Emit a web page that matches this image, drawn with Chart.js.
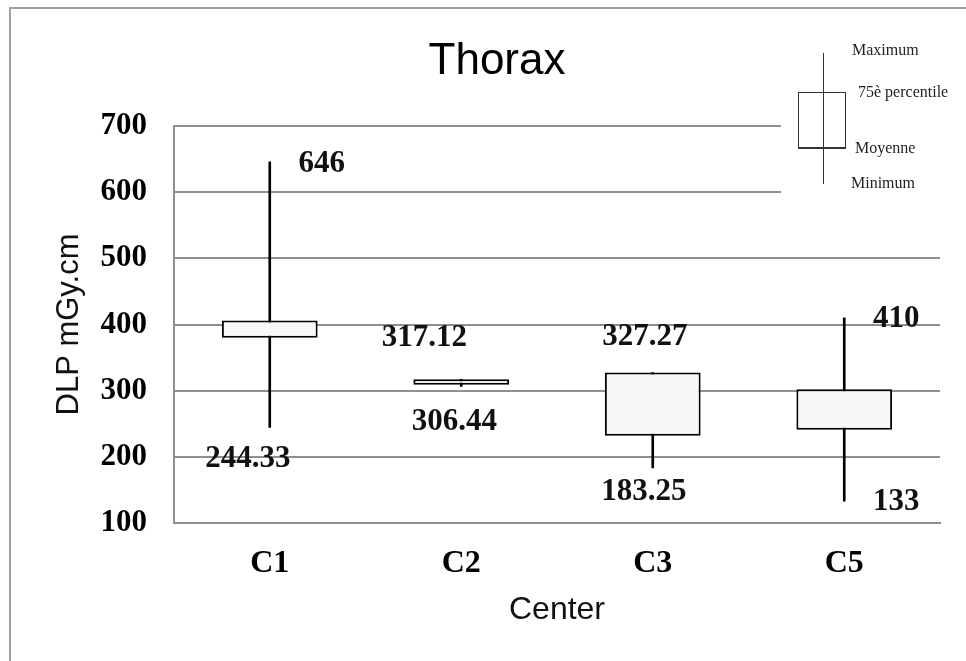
<!DOCTYPE html>
<html>
<head>
<meta charset="utf-8">
<script src="https://cdn.jsdelivr.net/npm/chart.js@4/dist/chart.umd.min.js"></script>
<style>
  html, body { margin: 0; padding: 0; background: #ffffff; }
  #wrap { width: 966px; height: 661px; position: relative; }
</style>
</head>
<body>
<div id="wrap"><canvas id="c" width="966" height="661"></canvas></div>
<script>
// ---- data ----
const categories = ['C1', 'C2', 'C3', 'C5'];
const minValues = [244.33, 306.44, 183.25, 133];
const q1Values  = [380, 309, 232, 241];
const q3Values  = [406, 317.12, 327.27, 302];
const maxValues = [646, 317.12, 327.27, 410];
const maxLabels = ['646', '317.12', '327.27', '410'];
const minLabels = ['244.33', '306.44', '183.25', '133'];
const yTicks = [100, 200, 300, 400, 500, 600, 700];
const legendTexts = ['Maximum', '75è percentile', 'Moyenne', 'Minimum'];

// label placement offsets (px) relative to the value point
const maxLabelOffsets = [[52, 2], [-37, -41], [-8, -36], [52, 1]];
const minLabelOffsets = [[-22, 31], [-7, 36], [-9, 24], [52, 1]];

const SERIF = '"Liberation Serif", "Times New Roman", serif';
const SANS = '"Liberation Sans", Arial, sans-serif';
const GRID = '#8f8f8f';

const whiskerData = categories.map((c, i) => [minValues[i], maxValues[i]]);
const boxData = categories.map((c, i) => [q1Values[i], q3Values[i]]);

const decorPlugin = {
  id: 'decor',
  beforeDraw(chart) {
    const ctx = chart.ctx;
    ctx.save();
    ctx.fillStyle = '#ffffff';
    ctx.fillRect(0, 0, chart.width, chart.height);
    ctx.strokeStyle = '#a0a0a0';
    ctx.lineWidth = 2;
    ctx.strokeRect(10, 8, 1000, 700);
    ctx.restore();
  },
  afterDatasetsDraw(chart) {
    const ctx = chart.ctx;
    const xs = chart.scales.x, ys = chart.scales.y;
    ctx.save();
    // title
    ctx.fillStyle = '#000';
    ctx.font = '44px ' + SANS;
    ctx.textAlign = 'center';
    ctx.textBaseline = 'middle';
    ctx.fillText('Thorax', 497, 62);

    // value labels
    ctx.font = 'bold 31px ' + SERIF;
    ctx.fillStyle = '#111';
    categories.forEach((c, i) => {
      const x = xs.getPixelForValue(i);
      ctx.fillText(maxLabels[i], x + maxLabelOffsets[i][0], ys.getPixelForValue(maxValues[i]) + maxLabelOffsets[i][1]);
      ctx.fillText(minLabels[i], x + minLabelOffsets[i][0], ys.getPixelForValue(minValues[i]) + minLabelOffsets[i][1]);
    });

    // legend key (covers gridlines on the right)
    ctx.fillStyle = '#ffffff';
    ctx.fillRect(781, 12, 185, 212);
    ctx.strokeStyle = '#333';
    ctx.lineWidth = 1;
    ctx.beginPath();
    ctx.moveTo(823.5, 53); ctx.lineTo(823.5, 184);
    ctx.stroke();
    ctx.strokeRect(798.5, 92.5, 47, 56);
    ctx.lineWidth = 2;
    ctx.beginPath();
    ctx.moveTo(798, 148); ctx.lineTo(846, 148);
    ctx.stroke();
    ctx.fillStyle = '#222';
    ctx.font = '16px ' + SERIF;
    ctx.textAlign = 'left';
    ctx.textBaseline = 'middle';
    ctx.fillText(legendTexts[0], 852, 51);
    ctx.fillText(legendTexts[1], 858, 93);
    ctx.fillText(legendTexts[2], 855, 149);
    ctx.fillText(legendTexts[3], 851, 184);
    ctx.restore();
  }
};

new Chart(document.getElementById('c'), {
  type: 'bar',
  data: {
    labels: categories,
    datasets: [
      {
        label: 'Min-Max',
        data: whiskerData,
        backgroundColor: '#000',
        borderWidth: 0,
        barThickness: 2,
        grouped: false,
        order: 1
      },
      {
        label: 'Q1-Q3',
        data: boxData,
        backgroundColor: '#f8f8f8',
        borderColor: '#000',
        borderWidth: 2,
        borderSkipped: false,
        categoryPercentage: 1,
        barPercentage: 0.5,
        grouped: false,
        order: 0
      }
    ]
  },
  options: {
    responsive: false,
    animation: false,
    layout: { padding: { top: 126, right: 26, bottom: 0, left: 0 } },
    plugins: {
      legend: { display: false },
      title: { display: false },
      tooltip: { enabled: false }
    },
    scales: {
      x: {
        grid: { display: false, drawTicks: false },
        border: { display: true, color: GRID, width: 2 },
        ticks: { color: '#000', font: { family: SERIF, size: 32, weight: 'bold' }, padding: 22 },
        title: { display: true, text: 'Center', color: '#111', font: { family: SANS, size: 32 }, padding: { top: 0, bottom: 32 } },
        afterFit(scale) { scale.height = 138; }
      },
      y: {
        min: 100,
        max: 700,
        grid: { color: GRID, lineWidth: 2, drawTicks: false },
        border: { display: true, color: GRID, width: 2 },
        afterBuildTicks(scale) { scale.ticks = yTicks.map(v => ({ value: v })); },
        ticks: { color: '#000', font: { family: SERIF, size: 31, weight: 'bold' }, padding: 27 },
        title: { display: true, text: 'DLP mGy.cm', color: '#111', font: { family: SANS, size: 31 }, padding: { top: 51, bottom: 0 } },
        afterFit(scale) { scale.width = 174; }
      }
    }
  },
  plugins: [decorPlugin]
});
</script>
</body>
</html>
